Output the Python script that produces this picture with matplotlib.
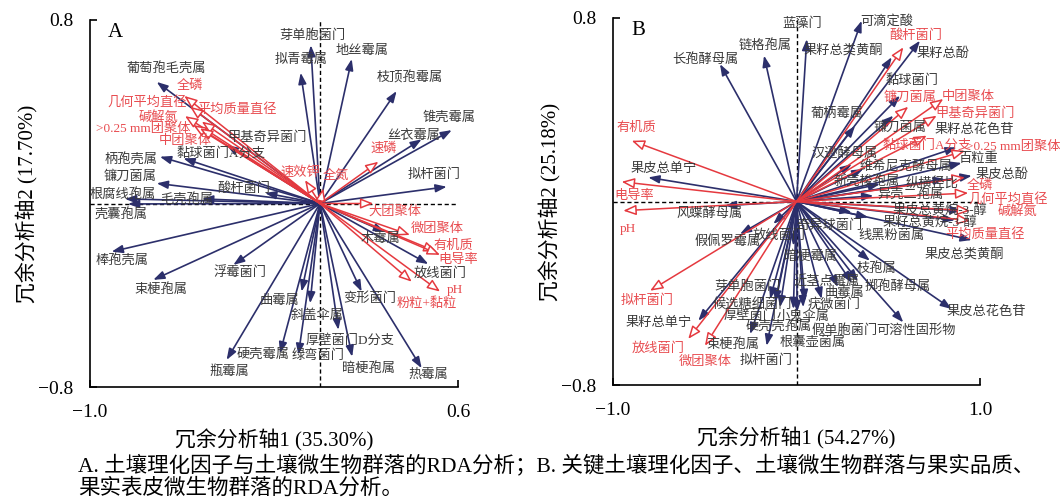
import matplotlib
matplotlib.use("Agg")
import matplotlib.pyplot as plt

plt.rcParams['font.family'] = ['Liberation Serif', 'Noto Sans CJK SC', 'DejaVu Sans']
plt.rcParams['axes.unicode_minus'] = True

# ---------------- 数据：A 图 ----------------
a_species = ['葡萄孢毛壳属', '芽单胞菌门', '拟青霉属', '地丝霉属', '枝顶孢霉属', '锥壳霉属',
             '丝衣霉属', '拟杆菌门', '甲基奇异菌门', '黏球菌门A分支', '柄孢壳属', '镰刀菌属',
             '酸杆菌门', '根腐线孢属', '毛壳孢属', '壳囊孢属', '棒孢壳属', '束梗孢属',
             '浮霉菌门', '曲霉属', '斜盖伞属', '硬壳霉属', '瓶霉属', '绿弯菌门',
             '厚壁菌门D分支', '暗梗孢属', '热霉属', '变形菌门', '放线菌门', '木霉属']
a_species_x = [-0.71, -0.04, -0.084, 0.138, 0.333, 0.573, 0.442, 0.551, -0.406, -0.594, -0.696, -0.71,
               -0.239, -0.848, -0.513, -0.835, -0.906, -0.725, -0.377, -0.08, -0.043, -0.174, -0.406, -0.094,
               0.08, 0.14, 0.442, 0.181, 0.471, 0.283]
a_species_y = [0.53, 0.69, 0.57, 0.63, 0.49, 0.32, 0.28, 0.073, 0.255, 0.197, 0.204, 0.088,
               0.046, 0.02, 0.02, -0.002, -0.21, -0.333, -0.268, -0.384, -0.435, -0.653, -0.682, -0.66,
               -0.551, -0.668, -0.718, -0.384, -0.264, -0.124]

a_env = ['全磷', '几何平均直径', '平均质量直径', '碱解氮', '>0.25 mm团聚体', '中团聚体', '速效钾',
         '全氮', '速磷', '大团聚体', '微团聚体', '有机质', '电导率', 'pH', '粉粒+黏粒']
a_env_x = [-0.59, -0.565, -0.514, -0.587, -0.551, -0.522, -0.065, 0.014, 0.254, 0.232, 0.391,
           0.507, 0.522, 0.522, 0.399]
a_env_y = [0.469, 0.422, 0.357, 0.381, 0.342, 0.328, 0.102, 0.066, 0.182, 0.0, -0.137,
           -0.21, -0.224, -0.384, -0.341]

# ---------------- 数据：B 图 ----------------
b_species = ['长孢酵母属', '链格孢属', '蓝藻门', '可滴定酸', '果籽总类黄酮', '果籽总酚', '黏球菌门',
             '葡柄霉属', '镰刀菌属', '果籽总花色苷', '汉逊酵母属', '维希尼克酵母属', '百粒重', '果皮总酚',
             '新壳梭孢属', '纵横径比', '异壳二孢属', '果皮总黄烷-3-醇', '果籽总黄烷-3-醇', '奇异球菌门',
             '线黑粉菌属', '果皮总类黄酮', '暗梗霉属', '枝孢属', '近茎点霉属', '掷孢酵母属', '曲霉属',
             '芽单胞菌门', '候选糖细菌门', '疣微菌门', '果皮总花色苷', '厚壁菌门', '小鬼伞属',
             '硬壳壳孢属', '假单胞菌门', '可溶性固形物', '根囊壶菌属', '束梗孢属', '拟杆菌门',
             '果籽总单宁', '果皮总单宁', '风蝶酵母属', '假佩罗霉属', '放线菌门']
b_species_x = [-0.417, -0.177, 0.056, 0.355, 0.519, 0.673, 0.564, 0.319, 0.528, 0.873, 0.301, 0.364,
               0.9, 0.955, 0.455, 0.809, 0.419, 0.9, 0.864, 0.301, 0.391, 0.955, -0.017, 0.4, 0.302,
               0.335, 0.226, -0.144, -0.09, 0.137, 0.846, -0.117, 0.037, -0.017, 0.046, 0.582, 0.003,
               -0.253, -0.163, -0.535, -0.808, -0.39, -0.308, -0.126]
b_species_y = [0.599, 0.636, 0.708, 0.788, 0.629, 0.701, 0.461, 0.33, 0.374, 0.236, 0.163, 0.142,
               0.168, 0.112, 0.076, 0.098, 0.025, -0.04, -0.081, -0.047, -0.069, -0.168, -0.193, -0.258,
               -0.355, -0.347, -0.373, -0.425, -0.461, -0.425, -0.469, -0.438, -0.461, -0.469, -0.434,
               -0.527, -0.482, -0.578, -0.629, -0.52, 0.105, -0.018, -0.142, -0.098]

b_env = ['有机质', '电导率', 'pH', '拟杆菌门', '放线菌门', '微团聚体', '酸杆菌门', '镰刀菌属',
         '中团聚体', '甲基奇异菌门', '黏球菌门A分支', '>0.25 mm团聚体', '全磷', '几何平均直径',
         '碱解氮', '平均质量直径']
b_env_x = [-0.898, -0.953, -0.944, -0.798, -0.59, -0.499, 0.582, 0.609, 0.8, 0.764, 0.71, 0.918,
           0.918, 0.936, 0.946, 0.946]
b_env_y = [0.265, 0.086, -0.04, -0.389, -0.599, -0.629, 0.672, 0.413, 0.447, 0.374, 0.287, 0.221,
           0.105, 0.037, -0.04, -0.084]

# 标签相对箭头末端的偏移（像素）
a_species_off = [(10, 13), (2, 10), (0, 13), (10, 8), (13, 13), (-3, 13), (-8, 3), (-13, 12), (41, 7),
                 (38, 5), (-29, -4), (-27, 7), (-21, 4), (-2, 4), (-15, -1), (-7, -11), (10, -10),
                 (8, -10), (7, -8), (-22, -9), (7, -12), (-17, -1), (3, -12), (20, -1), (12, -11),
                 (16, -12), (7, -7), (8, -7), (12, -9), (-5, -7)]
a_env_off = [(6, 10), (-43, 5), (35, 12), (-27, -1), (-50, -4), (-15, -13), (-5, 8), (13, 12), (5, 13),
             (22, -8), (27, 6), (17, 6), (18, -5), (15, 2), (15, -22)]
b_species_off = [(-15, 5), (1, 9), (-5, 15), (25, -1), (-48, 7), (23, -13), (12, 15), (-18, 12), (7, -12),
                 (18, 17), (-7, 10), (43, 3), (16, 4), (30, 1), (-13, 2), (-13, -4), (37, 1), (-22, 0),
                 (-25, -2), (-22, -13), (23, -19), (-7, -14), (17, -11), (7, -8), (-25, 2), (40, -5),
                 (7, -6), (-23, 12), (-28, 3), (12, -5), (35, -3), (-25, -14), (0, -9), (-15, -18),
                 (40, -30), (13, -8), (16, -31), (-17, -10), (0, -15), (-40, -2), (15, 9), (-15, -8),
                 (-12, -8), (6, -12)]
b_env_off = [(5, 13), (13, -14), (5, -18), (-3, -10), (-30, -10), (0, -16), (13, 12), (2, 9), (25, 2),
             (38, 2), (0, -10), (48, 4), (15, -8), (40, -6), (47, -1), (15, -14)]

NAVY = '#2c2f6b'
RED = '#e5393f'
LABEL_GREY = '#3a3a3a'
LABEL_RED = '#e84c50'


def draw_panel(ax, sp, sx, sy, soff, en, ex, ey, eoff, xlim, ylim, letter, xlabel, ylabel):
    ax.set_xlim(*xlim)
    ax.set_ylim(*ylim)
    ax.axhline(0, color='black', lw=1, ls=(0, (3, 2)), zorder=1)
    ax.axvline(0, color='black', lw=1, ls=(0, (3, 2)), zorder=1)

    for name, x, y, off in zip(sp, sx, sy, soff):
        ax.annotate('', xy=(x, y), xytext=(0, 0),
                    arrowprops=dict(arrowstyle='-|>,head_length=0.55,head_width=0.2',
                                    color=NAVY, lw=1.2, shrinkA=0, shrinkB=0, mutation_scale=12),
                    zorder=2)
        ax.annotate(name, xy=(x, y), xytext=off, textcoords='offset pixels',
                    ha='center', va='center', fontsize=9.5, color=LABEL_GREY, zorder=4)

    for name, x, y, off in zip(en, ex, ey, eoff):
        ax.annotate('', xy=(x, y), xytext=(0, 0),
                    arrowprops=dict(arrowstyle='-|>,head_length=0.55,head_width=0.22',
                                    ec=RED, fc='white', lw=1.1, shrinkA=0, shrinkB=0,
                                    mutation_scale=14),
                    zorder=3)
        ax.annotate(name, xy=(x, y), xytext=off, textcoords='offset pixels',
                    ha='center', va='center', fontsize=9.5, color=LABEL_RED, zorder=4)

    for s in ['top', 'right']:
        ax.spines[s].set_visible(False)
    ax.spines['left'].set_linewidth(1.2)
    ax.spines['bottom'].set_linewidth(1.2)
    ax.set_xticks(list(xlim))
    ax.set_xticklabels(['%.1f' % v if v >= 0 else '\u2212%.1f' % -v for v in xlim])
    ax.set_yticks(list(ylim))
    ax.set_yticklabels(['%.1f' % v if v >= 0 else '\u2212%.1f' % -v for v in ylim])
    ax.tick_params(direction='in', length=5, width=1.2, labelsize=14, pad=12)
    ax.set_xlabel(xlabel, fontsize=15, labelpad=6)
    ax.set_ylabel(ylabel, fontsize=15, labelpad=0)
    ax.text(0.07, 0.965, letter, transform=ax.transAxes, fontsize=15, va='center', ha='center')


fig = plt.figure(figsize=(10.6, 5.01), dpi=100)
W, H = 1060, 501
ax_a = fig.add_axes([90 / W, 1 - 387 / H, 368 / W, 367 / H])
ax_b = fig.add_axes([613 / W, 1 - 385 / H, 367 / W, 367 / H])

draw_panel(ax_a, a_species, a_species_x, a_species_y, a_species_off,
           a_env, a_env_x, a_env_y, a_env_off, (-1.0, 0.6), (-0.8, 0.8),
           'A', '冗余分析轴1 (35.30%)', '冗余分析轴2 (17.70%)')
draw_panel(ax_b, b_species, b_species_x, b_species_y, b_species_off,
           b_env, b_env_x, b_env_y, b_env_off, (-1.0, 1.0), (-0.8, 0.8),
           'B', '冗余分析轴1 (54.27%)', '冗余分析轴2 (25.18%)')

fig.text(78 / W, 1 - 465 / H,
         'A. 土壤理化因子与土壤微生物群落的RDA分析；B. 关键土壤理化因子、土壤微生物群落与果实品质、',
         fontsize=15.5, va='center', ha='left')
fig.text(78 / W, 1 - 489 / H, '果实表皮微生物群落的RDA分析。', fontsize=15.5, va='center', ha='left')

fig.savefig('out.png', dpi=100)
